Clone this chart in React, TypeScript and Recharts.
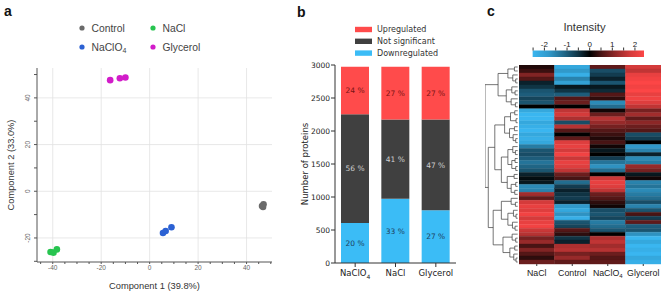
import React from 'react';
import {
  ScatterChart, Scatter, XAxis, YAxis, ReferenceLine,
  BarChart, Bar, Cell, LabelList,
} from 'recharts';

// ---- panel a: PCA scores ----
const controlPts = [{ x: 46.4, y: -6.3 }, { x: 47.0, y: -5.6 }, { x: 46.8, y: -6.7 }];
const naclPts = [{ x: -40.9, y: -26.0 }, { x: -39.7, y: -26.3 }, { x: -38.3, y: -24.9 }];
const naclo4Pts = [{ x: 5.5, y: -17.9 }, { x: 6.6, y: -17.0 }, { x: 9.0, y: -15.4 }];
const glycerolPts = [{ x: -16.3, y: 47.6 }, { x: -12.3, y: 48.4 }, { x: -10.0, y: 48.7 }];

const pcaGroups = [
  { name: 'Control', color: '#6a6a6a', points: controlPts },
  { name: 'NaCl', color: '#27c44f', points: naclPts },
  { name: 'NaClO4', color: '#2b61d3', points: naclo4Pts },
  { name: 'Glycerol', color: '#d21cc9', points: glycerolPts },
];
const pcaXTicks = [-45, -40, -35, -30, -25, -20, -15, -10, -5, 0, 5, 10, 15, 20, 25, 30, 35, 40, 45, 50];
const pcaYTicks = [-30, -25, -20, -15, -10, -5, 0, 5, 10, 15, 20, 25, 30, 35, 40, 45, 50];
const pcaXGrid = [-40, -20, 0, 20, 40];
const pcaYGrid = [-20, 0, 20, 40];

// ---- panel b: regulated proteins ----
const conditions = ['NaClO4', 'NaCl', 'Glycerol'];
const downCounts = [605, 975, 800];
const nsCounts = [1650, 1200, 1375];
const upCounts = [720, 800, 800];
const downPct = [20, 33, 27];
const nsPct = [56, 41, 47];
const upPct = [24, 27, 27];
const countTicks = [0, 500, 1000, 1500, 2000, 2500, 3000];

// ---- panel c: heatmap (z-scored intensity) ----
const heatGroups = ['NaCl', 'Control', 'NaClO4', 'Glycerol'];
const naclRows = [
  0.2, 0.4, 1.0, 0.6, -0.3, -0.5, -0.9, -1.0, -0.7, -0.9, 0.0, -2.0, -2.2, -2.2, -2.0, -2.1,
  -2.2, -2.0, -2.1, -2.0, -1.4, -0.9, -0.8, -1.0, -1.3, -1.1, -0.9, -0.3, -0.1, -0.2, -1.6, -1.5, 1.3,
  0.7, 1.8, 2.0, 1.9, 2.1, 1.8, 2.0, 2.1, 1.7, 1.5, 0.9, 1.2, 0.5, 1.0, 0.6, 0.3, 0.8,
];
const controlRows = [
  -2.0, -1.8, -2.1, -1.5, -1.9, -0.2, -0.5, -1.0, 0.6, 0.8, 0.0, 1.6, 1.8, 1.4, -0.8, 1.5,
  0.6, 0.0, 0.7, 1.9, 2.0, 1.8, 2.1, 1.7, 2.0, 1.9, 1.6, 0.8, 0.5, -1.2, -0.6, -0.3, -0.5,
  -0.6, -0.3, -1.8, -2.0, -1.7, -2.1, -0.9, -0.7, 0.6, 0.3, -0.5, -0.3, 1.4, 1.5, 0.9, 1.2, 0.7,
];
const naclo4Rows = [
  0.7, -0.8, -0.6, -0.3, -0.9, -0.2, -0.4, 0.6, 0.3, -1.6, -1.2, 0.1, 0.8, 1.5, 1.2, 0.9,
  0.6, 0.4, 0.2, 0.5, 0.1, -0.2, 0.0, -0.6, -1.3, -1.7, -1.2, 0.0, 1.7, 2.0, 1.9, 1.6, 0.8,
  0.6, 0.3, 0.1, -0.8, -0.9, -0.7, -1.4, -1.2, -0.9, 0.0, 1.4, 1.6, 1.3, 1.5, 0.8, 0.6, 0.7,
];
const glycerolRows = [
  1.8, 1.6, 2.0, 2.1, 2.2, 2.1, 2.2, 2.0, 2.1, 1.9, 1.6, 0.9, 1.3, 0.7, 1.1, 0.8,
  0.6, -0.8, -0.6, 0.0, -1.8, -1.5, -0.3, -1.6, -1.4, 1.2, 0.9, -0.2, 0.1, -1.5, -1.3, -1.6, -1.4,
  -1.2, -0.8, -1.5, -0.9, 0.5, -0.6, 0.7, -1.0, -0.9, -1.7, -2.2, -2.0, -2.3, -2.1, -2.2, -2.0, -2.1,
];
const heatValues = [naclRows, controlRows, naclo4Rows, glycerolRows];
const colorbarRange = [-2.53, 2.4];
const colorbarTicks = [-2.5, -2, -1.5, -1, -0.5, 0, 0.5, 1, 1.5, 2];
const colorbarStops = [-2.53, -1.8, -1.1, -0.5, 0, 0.5, 1.1, 1.8, 2.4];

// row clustering: [first leaf, last leaf, first leaf of lower child, height]
const dendroNodes = [
  [0, 49, 11, 10], [0, 10, 5, 6], [11, 49, 33, 9], [11, 32, 20, 7], [33, 49, 42, 7.5],
  [0, 4, 2, 3], [0, 1, 1, 1], [2, 4, 3, 1.5], [3, 4, 4, 0.6],
  [5, 10, 8, 3.5], [5, 7, 6, 1.8], [6, 7, 7, 0.8], [8, 10, 9, 2], [9, 10, 10, 0.7],
  [11, 19, 15, 4], [11, 14, 13, 2.2], [11, 12, 12, 0.9], [13, 14, 14, 0.5], [15, 19, 17, 2.5],
  [15, 16, 16, 1], [17, 19, 18, 1.4], [18, 19, 19, 0.6],
  [20, 32, 27, 5], [20, 26, 23, 3], [20, 22, 21, 1.5], [21, 22, 22, 0.7], [23, 26, 25, 1.8],
  [23, 24, 24, 0.8], [25, 26, 26, 0.6], [27, 32, 29, 3.2], [27, 28, 28, 1.1], [29, 32, 31, 2],
  [29, 30, 30, 0.6], [31, 32, 32, 0.9],
  [33, 41, 36, 5], [33, 35, 34, 2], [34, 35, 35, 0.7], [36, 41, 39, 3], [36, 38, 37, 1.3],
  [37, 38, 38, 0.5], [39, 41, 40, 1.6], [40, 41, 41, 0.8],
  [42, 49, 45, 4.5], [42, 44, 43, 1.7], [43, 44, 44, 0.6], [45, 49, 47, 2.4], [45, 46, 46, 0.9],
  [47, 49, 48, 1.2], [48, 49, 49, 0.5],
];

const BLUE = [58, 182, 240];
const RED = [252, 70, 70];
function heatColor(v: number) {
  const t = Math.max(-1, Math.min(1, v / 2.2));
  const k = Math.pow(Math.abs(t), 0.85);
  const c = t < 0 ? BLUE : RED;
  return `rgb(${Math.round(c[0] * k)},${Math.round(c[1] * k)},${Math.round(c[2] * k)})`;
}

function dendroLinks() {
  const links: { x: number; y: number }[][] = [];
  const walk = (top: number, bottom: number): { y: number; h: number } => {
    if (top === bottom) return { y: top + 0.5, h: 0 };
    const node = dendroNodes.find(d => d[0] === top && d[1] === bottom)!;
    const a = walk(top, node[2] - 1);
    const b = walk(node[2], bottom);
    links.push([
      { x: a.h, y: a.y }, { x: node[3], y: a.y },
      { x: node[3], y: b.y }, { x: b.h, y: b.y },
    ]);
    return { y: (a.y + b.y) / 2, h: node[3] };
  };
  walk(0, naclRows.length - 1);
  return links;
}

function chem(name: string, subSize: number) {
  if (name === 'NaClO4') {
    return [<tspan key="a">NaClO</tspan>, <tspan key="b" dy={2.5} fontSize={subSize}>4</tspan>];
  }
  return name;
}

const PcaYTick = ({ x, y, payload }: any) =>
  payload.value % 20 !== 0 ? <g /> : (
    <text transform={`translate(${x - 2.5},${y}) rotate(-90)`} textAnchor="middle" fontSize={6.5} fill="#666">
      {payload.value}
    </text>
  );

const CondTick = ({ x, y, payload }: any) => (
  <text x={x} y={y} dy={8} textAnchor="middle" fontSize={8.5} fill="#222" fontFamily="DejaVu Sans">
    {chem(payload.value, 6)}
  </text>
);

const HeatTick = ({ x, y, payload }: any) => (
  <text x={x} y={y} dy={7.5} textAnchor="middle" fontSize={8.8} fill="#222">
    {chem(heatGroups[Math.floor(payload.value)], 6)}
  </text>
);

const BarTick = ({ x, y, payload }: any) =>
  Number.isInteger(payload.value) ? (
    <text x={x} y={y} dy={-1} textAnchor="middle" fontSize={8} fill="#222">{payload.value}</text>
  ) : <g />;

const pctLabel = (color: string) => (p: any) => (
  <text x={p.x + p.width / 2} y={p.y + p.height / 2} dy={2.7} textAnchor="middle" fontSize={7.5}
    fill={color} fontFamily="DejaVu Sans">
    {`${p.value} %`}
  </text>
);

export default function App() {
  const countData = conditions.map((name, i) => ({
    name, down: downCounts[i], ns: nsCounts[i], up: upCounts[i],
    downPct: downPct[i], nsPct: nsPct[i], upPct: upPct[i],
  }));
  const heatData = naclRows.map((_, i) => ({ row: i, NaCl: 1, Control: 1, NaClO4: 1, Glycerol: 1 }));
  const cbarData = [{ name: 'Intensity', range: colorbarRange }];
  const links = dendroLinks();
  const span = colorbarRange[1] - colorbarRange[0];

  const box = (left: number, top: number): React.CSSProperties => ({ position: 'absolute', left, top });

  return (
    <div style={{ position: 'fixed', left: 0, top: 0, width: 669, height: 292, background: '#fff', fontFamily: '"Liberation Sans", Arial, sans-serif' }}>
      {/* text overlay: panel letters, legends, shared gradient */}
      <svg width={669} height={292} style={{ position: 'absolute', left: 0, top: 0 }}>
        <defs>
          <linearGradient id="intensityGrad" x1="0" y1="0" x2="1" y2="0">
            {colorbarStops.map(v => (
              <stop key={v} offset={`${((v - colorbarRange[0]) / span) * 100}%`} stopColor={heatColor(v)} />
            ))}
          </linearGradient>
        </defs>
        <text x={4} y={15.5} fontSize={14} fontWeight="bold" fill="#111">a</text>
        <text x={297} y={16.5} fontSize={14} fontWeight="bold" fill="#111">b</text>
        <text x={487} y={15.5} fontSize={14} fontWeight="bold" fill="#111">c</text>
        {pcaGroups.map((g, i) => {
          const cx = i % 2 === 0 ? 82 : 153;
          const cy = i < 2 ? 28 : 47;
          return (
            <g key={g.name}>
              <circle cx={cx} cy={cy} r={2.6} fill={g.color} />
              <text x={cx + 9.5} y={cy + 3.6} fontSize={10.3} fill="#444">{chem(g.name, 7)}</text>
            </g>
          );
        })}
        {[
          { label: 'Upregulated', color: '#ff4b4b' },
          { label: 'Not significant', color: '#404040' },
          { label: 'Downregulated', color: '#3bbcf6' },
        ].map((l, i) => (
          <g key={l.label}>
            <rect x={355} y={26.8 + i * 11.8} width={17} height={5.4} fill={l.color} />
            <text x={377} y={32.3 + i * 11.8} fontSize={8} fill="#333" fontFamily="DejaVu Sans">{l.label}</text>
          </g>
        ))}
        <text x={584.5} y={30.5} fontSize={11.3} fill="#333" textAnchor="middle">Intensity</text>
      </svg>

      {/* a: PCA */}
      <div style={box(0, 0)}>
        <ScatterChart width={280} height={292} margin={{ top: 68, right: 8, bottom: 0, left: 0 }}>
          {pcaXGrid.map(v => <ReferenceLine key={'x' + v} x={v} stroke="#e2e2e2" strokeWidth={0.8} />)}
          {pcaYGrid.map(v => <ReferenceLine key={'y' + v} y={v} stroke="#e2e2e2" strokeWidth={0.8} />)}
          <XAxis type="number" dataKey="x" domain={[-46.5, 50.5]} ticks={pcaXTicks} allowDataOverflow
            height={30} tickSize={2} tickMargin={1} axisLine={{ stroke: '#555' }} tickLine={{ stroke: '#555' }}
            tick={{ fontSize: 6.5, fill: '#666' }} tickFormatter={(v: number) => (v % 20 === 0 ? String(v) : '')}
            label={{ value: 'Component 1 (39.8%)', position: 'insideBottom', offset: 3, fontSize: 9.3, fill: '#333' }} />
          <YAxis type="number" dataKey="y" domain={[-30.3, 52.8]} ticks={pcaYTicks} allowDataOverflow
            width={37} tickSize={3} axisLine={{ stroke: '#555' }} tickLine={{ stroke: '#555' }} tick={<PcaYTick />}
            label={{ value: 'Component 2 (33.0%)', angle: -90, position: 'insideLeft', offset: 11, fontSize: 9.3, fill: '#333', style: { textAnchor: 'middle' } }} />
          {pcaGroups.map(g => (
            <Scatter key={g.name} name={g.name} data={g.points} fill={g.color} isAnimationActive={false}
              shape={(p: any) => <circle cx={p.cx} cy={p.cy} r={3.3} fill={g.color} />} />
          ))}
        </ScatterChart>
      </div>

      {/* b: stacked counts */}
      <div style={box(290, 0)}>
        <BarChart width={180} height={292} data={countData} margin={{ top: 65, right: 14, bottom: 0, left: 0 }}>
          <XAxis dataKey="name" height={29} tickSize={4} tickMargin={1} interval={0} axisLine={{ stroke: '#333' }}
            tickLine={{ stroke: '#333' }} tick={<CondTick />} />
          <XAxis xAxisId="top" dataKey="name" orientation="top" height={0} tick={false} tickLine={false}
            axisLine={{ stroke: '#333' }} />
          <YAxis domain={[0, 3000]} ticks={countTicks} width={45} tickSize={4} tickMargin={1}
            axisLine={{ stroke: '#333' }} tickLine={{ stroke: '#333' }}
            tick={{ fontSize: 7.5, fill: '#222', fontFamily: 'DejaVu Sans' }}
            label={{ value: 'Number of proteins', angle: -90, position: 'insideLeft', offset: 15, fontSize: 8.5, fill: '#222', fontFamily: 'DejaVu Sans', style: { textAnchor: 'middle' } }} />
          <YAxis yAxisId="right" orientation="right" domain={[0, 3000]} width={0} tick={false} tickLine={false}
            axisLine={{ stroke: '#333' }} />
          <Bar dataKey="down" stackId="s" fill="#3bbcf6" barSize={28} isAnimationActive={false}>
            <LabelList dataKey="downPct" content={pctLabel('#1d3f5e')} />
          </Bar>
          <Bar dataKey="ns" stackId="s" fill="#404040" barSize={28} isAnimationActive={false}>
            <LabelList dataKey="nsPct" content={pctLabel('#cfcfcf')} />
          </Bar>
          <Bar dataKey="up" stackId="s" fill="#ff4b4b" barSize={28} isAnimationActive={false}>
            <LabelList dataKey="upPct" content={pctLabel('#7a1414')} />
          </Bar>
        </BarChart>
      </div>

      {/* c: colour bar */}
      <div style={box(522, 24)}>
        <BarChart width={134} height={33} data={cbarData} layout="vertical" barCategoryGap={0}
          margin={{ top: 0, right: 12, bottom: 0, left: 10.4 }}>
          <XAxis type="number" orientation="top" domain={colorbarRange} ticks={colorbarTicks} allowDataOverflow
            height={26.5} axisLine={false} tickSize={3} tickMargin={0} interval={0}
            tickLine={{ stroke: '#333' }} tick={<BarTick />} />
          <YAxis type="category" dataKey="name" hide />
          <Bar dataKey="range" fill="url(#intensityGrad)" isAnimationActive={false} />
        </BarChart>
      </div>

      {/* c: dendrogram */}
      <div style={box(485, 65)}>
        <ScatterChart width={34} height={199} margin={{ top: 0, right: 0, bottom: 0, left: 0 }}>
          <XAxis type="number" dataKey="x" domain={[-0.4, 10]} reversed hide allowDataOverflow />
          <YAxis type="number" dataKey="y" domain={[0, naclRows.length]} reversed hide allowDataOverflow />
          {links.map((l, i) => (
            <Scatter key={i} data={l} isAnimationActive={false} line={{ stroke: '#3a3a3a', strokeWidth: 0.7 }}
              shape={() => <g />} />
          ))}
        </ScatterChart>
      </div>

      {/* c: heatmap */}
      <div style={box(519, 65)}>
        <BarChart width={142} height={219} data={heatData} layout="vertical" barCategoryGap={0}
          margin={{ top: 0, right: 0, bottom: 0, left: 0 }}>
          <XAxis type="number" domain={[0, 4]} ticks={[0.5, 1.5, 2.5, 3.5]} height={20} axisLine={false}
            tickSize={2} tickMargin={2} tickLine={{ stroke: '#333' }} tick={<HeatTick />} />
          <YAxis type="category" dataKey="row" hide />
          {heatGroups.map((g, gi) => (
            <Bar key={g} dataKey={g} stackId="h" isAnimationActive={false}>
              {heatValues[gi].map((v, i) => (
                <Cell key={i} fill={heatColor(v)} stroke={heatColor(v)} strokeWidth={0.4} />
              ))}
            </Bar>
          ))}
        </BarChart>
      </div>
    </div>
  );
}
